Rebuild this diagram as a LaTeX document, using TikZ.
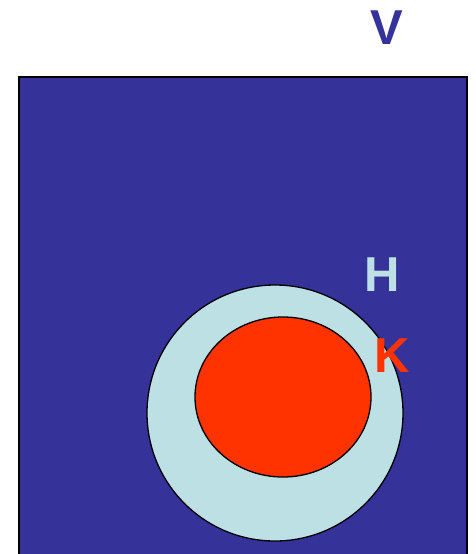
\documentclass[tikz,border=0pt]{standalone}
\usepackage{fontspec}
\setmainfont{Liberation Sans}
\usetikzlibrary{shapes.geometric}
\definecolor{setV}{RGB}{53,51,153}
\definecolor{setH}{RGB}{188,224,227}
\definecolor{setK}{RGB}{255,51,0}
\tikzset{
  setlabel/.style={font=\fontsize{49}{49}\selectfont\bfseries, inner sep=0pt}
}
\begin{document}
\begin{tikzpicture}[x=1pt, y=-1pt]
  \useasboundingbox (0,0) rectangle (476,554);
  % Universe
  \begin{scope}
    \clip (0,0) rectangle (476,554);
    \draw[fill=setV, line width=1.8pt] (19,77) rectangle (467,570);
  \end{scope}

  % Subsets
  \node (H) at (275,413) [circle, draw, fill=setH, line width=1.3pt,
    minimum size=256pt, inner sep=0pt]{};
  \node (K) at (283,397) [ellipse, draw, fill=setK, line width=1.3pt,
    minimum width=176pt, minimum height=160pt, inner sep=0pt]{};

  % Labels
  \node (V label) at (387,28) [setlabel, text=setV]{V};
  \node (H label) at (382,275) [setlabel, text=setH]{H};
  \node (K label) at (392,356) [setlabel, text=setK]{K};
\end{tikzpicture}
\end{document}
